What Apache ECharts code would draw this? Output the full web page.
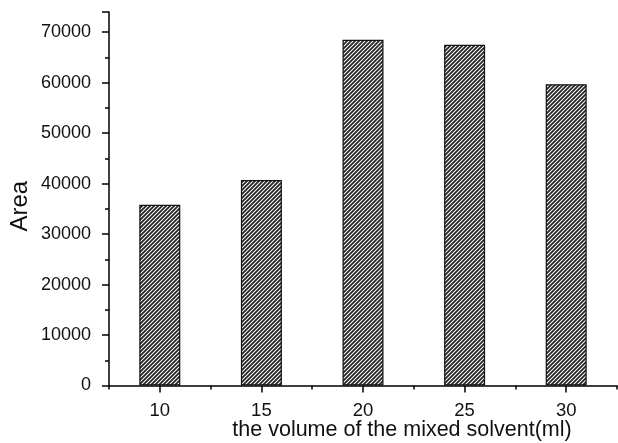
<!DOCTYPE html>
<html>
<head>
<meta charset="utf-8">
<script src="https://cdn.jsdelivr.net/npm/echarts@6/dist/echarts.min.js"></script>
<style>
  html, body { margin: 0; padding: 0; background: #fff; }
  #chart { width: 618px; height: 443px; }
</style>
</head>
<body>
<div id="chart"></div>
<script>
// Solvent volume (ml) and measured peak area
const volumes = ['10', '15', '20', '25', '30'];
const areas = [35800, 40700, 68500, 67500, 59700];
const yTicks = [0, 10000, 20000, 30000, 40000, 50000, 60000, 70000];

// Diagonal hatch fill for the bars
function hatchPattern() {
  const s = 4;
  const c = document.createElement('canvas');
  c.width = s; c.height = s;
  const g = c.getContext('2d');
  g.fillStyle = '#ffffff';
  g.fillRect(0, 0, s, s);
  g.strokeStyle = '#262626';
  g.lineWidth = 1.8;
  g.beginPath();
  g.moveTo(-1, s + 1); g.lineTo(s + 1, -1);
  g.moveTo(-1, 1); g.lineTo(1, -1);
  g.moveTo(s - 1, s + 1); g.lineTo(s + 1, s - 1);
  g.stroke();
  return c;
}

const chart = echarts.init(document.getElementById('chart'), null, { renderer: 'canvas' });
const font = 'Liberation Sans, Arial, Helvetica, sans-serif';

chart.setOption({
  animation: false,
  backgroundColor: '#ffffff',
  grid: { left: 109, right: 1, top: 12, bottom: 57.5, containLabel: false, outerBoundsMode: 'none' },
  xAxis: [
    {
      type: 'category',
      data: volumes,
      boundaryGap: true,
      axisLine: { show: true, lineStyle: { color: '#000', width: 1.5 } },
      axisTick: { show: true, alignWithLabel: true, length: 7, lineStyle: { color: '#000', width: 1.5 } },
      axisLabel: { color: '#111', fontFamily: font, fontSize: 18.5, margin: 16 },
      name: 'the volume of the mixed solvent(ml)',
      nameLocation: 'middle',
      nameGap: 34,
      nameMoveOverlap: false,
      nameTextStyle: { color: '#111', fontFamily: font, fontSize: 21.5, padding: [0, 0, 0, 78] },
      splitLine: { show: false }
    },
    {
      type: 'category',
      data: volumes,
      position: 'bottom',
      boundaryGap: true,
      axisLine: { show: false },
      axisTick: { show: true, alignWithLabel: false, length: 4, lineStyle: { color: '#000', width: 1.5 } },
      axisLabel: { show: false },
      splitLine: { show: false }
    }
  ],
  yAxis: {
    type: 'value',
    min: 0,
    max: 74000,
    interval: 10000,
    axisLine: { show: true, lineStyle: { color: '#000', width: 1.5 } },
    axisTick: { show: true, length: 7, lineStyle: { color: '#000', width: 1.5 } },
    minorTick: { show: true, splitNumber: 2, length: 4, lineStyle: { color: '#000', width: 1.5 } },
    axisLabel: {
      color: '#111', fontFamily: font, fontSize: 18, margin: 18,
      formatter: v => (yTicks.indexOf(v) >= 0 ? String(v) : '')
    },
    splitLine: { show: false },
    name: 'Area',
    nameLocation: 'middle',
    nameGap: 77,
    nameMoveOverlap: false,
    nameTextStyle: { color: '#111', fontFamily: font, fontSize: 24, padding: [0, 15, 0, 0] }
  },
  series: [{
    type: 'bar',
    xAxisIndex: 0,
    data: areas,
    barWidth: 41,
    itemStyle: {
      color: { image: hatchPattern(), repeat: 'repeat' },
      borderColor: '#111',
      borderWidth: 1.2
    }
  }]
});
</script>
</body>
</html>
